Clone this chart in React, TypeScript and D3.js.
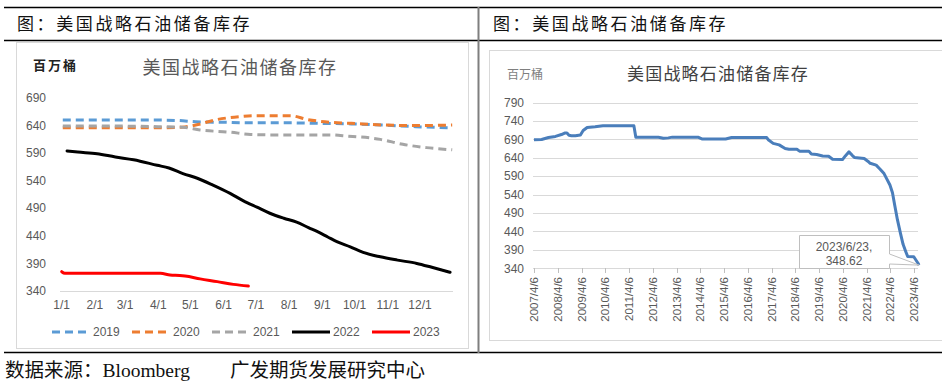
import React from "react";
import * as d3 from "d3";

// ---------- Left chart data (day of year, million barrels) ----------
const monthLabels = ["1/1", "2/1", "3/1", "4/1", "5/1", "6/1", "7/1", "8/1", "9/1", "10/1", "11/1", "12/1"];
const monthStartDays = [0, 31, 59, 90, 120, 151, 181, 212, 243, 273, 304, 334];
const leftYTicks = [340, 390, 440, 490, 540, 590, 640, 690];

const s2019: [number, number][] = [[1, 650], [30, 650], [60, 650], [90, 650], [110, 649], [125, 647], [150, 646], [180, 645], [210, 645], [240, 644], [270, 643], [300, 641], [330, 638], [364, 636]];
const s2020: [number, number][] = [[1, 636], [30, 636], [60, 636], [90, 636], [112, 637], [125, 641], [145, 651], [165, 656], [180, 658], [213, 658], [229, 651], [250, 646], [270, 644], [300, 641], [330, 640], [364, 641]];
const s2021: [number, number][] = [[1, 639], [30, 639], [60, 639], [90, 638], [113, 637], [129, 632], [157, 628], [176, 624], [200, 623], [250, 623], [266, 621], [297, 615], [318, 606], [340, 600], [364, 596]];
const s2022: [number, number][] = [[5, 594], [15, 592], [33, 589], [50, 583], [67, 578], [89, 568], [100, 563], [113, 553], [127, 544], [141, 532], [157, 517], [169, 504], [182, 492], [194, 481], [207, 472], [219, 465], [230, 455], [238, 448], [248, 438], [257, 429], [269, 420], [281, 410], [297, 402], [313, 396], [331, 390], [345, 383], [362, 374]];
const s2023: [number, number][] = [[0, 375], [3, 372], [50, 372], [92, 372], [101, 369], [110, 368], [115, 367], [129, 362], [145, 357], [160, 352], [174, 349]];

const seriesNames = ["2019", "2020", "2021", "2022", "2023"];
const seriesColors = ["#5b9bd5", "#ed7d31", "#a5a5a5", "#000000", "#ff0000"];
const seriesDashed = [true, true, true, false, false];
const seriesData = [s2019, s2020, s2021, s2022, s2023];

// ---------- Right chart data (date, million barrels) ----------
const rightYTicks = [340, 390, 440, 490, 540, 590, 640, 690, 740, 790];
const rightXLabels = ["2007/4/6", "2008/4/6", "2009/4/6", "2010/4/6", "2011/4/6", "2012/4/6", "2013/4/6", "2014/4/6", "2015/4/6", "2016/4/6", "2017/4/6", "2018/4/6", "2019/4/6", "2020/4/6", "2021/4/6", "2022/4/6", "2023/4/6"];
const sprDates = [
  "2007-04-06", "2007-08-01", "2007-11-15", "2008-03-01", "2008-06-01", "2008-07-20", "2008-08-25", "2008-09-25", "2008-11-01", "2009-01-01",
  "2009-03-20", "2009-05-01", "2009-07-01", "2009-11-01", "2010-03-01", "2011-06-20", "2011-07-20", "2011-12-01", "2012-07-01", "2012-09-15",
  "2012-12-01", "2013-02-01", "2014-03-01", "2014-05-01", "2015-05-01", "2015-08-01", "2016-06-01", "2017-01-20", "2017-02-20", "2017-05-01",
  "2017-08-01", "2017-11-01", "2017-12-30", "2018-05-01", "2018-06-10", "2018-11-01", "2018-12-10", "2019-03-01", "2019-06-01", "2019-09-01",
  "2019-11-01", "2020-04-01", "2020-05-15", "2020-07-10", "2020-09-01", "2020-10-01", "2021-03-01", "2021-05-01", "2021-06-01", "2021-09-01",
  "2021-11-01", "2021-12-31", "2022-02-01", "2022-04-01", "2022-05-10", "2022-06-15", "2022-07-25", "2022-09-10", "2022-10-20", "2022-12-01",
  "2022-12-30", "2023-04-01", "2023-04-15", "2023-06-02", "2023-06-23"
];
const sprValues = [
  688.6, 689.5, 695, 698, 703, 707, 707, 701, 700, 700,
  702, 714, 722, 724, 726.6, 726.6, 696, 696, 695.5, 693,
  694, 696, 696, 691, 691, 695, 695, 695, 688, 679,
  675, 665, 663, 663, 658, 658, 650, 649, 645, 644,
  636, 635, 645, 656, 646, 641, 638, 630, 625, 620,
  609, 597, 586, 566, 545, 510, 472, 435, 405, 385,
  372, 371.6, 368, 355, 348.62
];
const annotationLines = ["2023/6/23,", "348.62"];

const cjk = "'Noto Sans CJK SC', sans-serif";
const serifCjk = "'Liberation Serif', 'Noto Sans CJK SC', serif";
const numFont = "'Liberation Sans', Arial, sans-serif";

export default function App() {
  // left scales
  const xL = d3.scaleLinear().domain([0, 364]).range([61.7, 452.2]);
  const yL = d3.scaleLinear().domain([340, 690]).range([291, 98]);
  const lineL = d3.line<[number, number]>().x(d => xL(d[0])).y(d => yL(d[1])).curve(d3.curveMonotoneX);

  // right scales
  const parse = d3.timeParse("%Y-%m-%d");
  const xR = d3.scaleTime().domain([parse("2007-04-06")!, parse("2023-04-06")!]).range([534, 914]);
  const yR = d3.scaleLinear().domain([340, 790]).range([268.3, 102.5]);
  const rightPts = sprDates.map((d, i) => [parse(d)!, sprValues[i]] as [Date, number]);
  const lineR = d3.line<[Date, number]>().x(d => xR(d[0])).y(d => yR(d[1]));
  const tickDates = rightXLabels.map(s => {
    const [y, m, dd] = s.split("/").map(Number);
    return new Date(y, m - 1, dd);
  });
  const last = rightPts[rightPts.length - 1];
  const px = xR(last[0]);
  const py = yR(last[1]);

  const legendX = [52, 132, 212, 292, 372];

  return (
    <div style={{ position: "absolute", left: 0, top: 0 }}>
      <svg width={942} height={381} style={{ display: "block", background: "#fff" }}>
        {/* page frame lines */}
        <line x1={4} x2={942} y1={7.5} y2={7.5} stroke="#000" strokeWidth={1.5} />
        <line x1={4} x2={942} y1={40.5} y2={40.5} stroke="#000" strokeWidth={1.5} />
        <line x1={4} x2={942} y1={352.5} y2={352.5} stroke="#000" strokeWidth={1.5} />
        <line x1={478.5} x2={478.5} y1={7} y2={353} stroke="#7f7f7f" strokeWidth={2} />

        {/* page titles */}
        <text x={17} y={30} fontFamily={serifCjk} fontSize={17} letterSpacing={2.6} fill="#111">图：美国战略石油储备库存</text>
        <text x={493} y={30} fontFamily={serifCjk} fontSize={17} letterSpacing={2.6} fill="#111">图：美国战略石油储备库存</text>

        {/* footer */}
        <text x={5} y={377} fontFamily={serifCjk} fontSize={19.5} fill="#111">
          <tspan>数据来源：</tspan>
          <tspan>Bloomberg</tspan>
          <tspan x={230}>广发期货发展研究中心</tspan>
        </text>

        {/* ---------- LEFT CHART ---------- */}
        <rect x={16.5} y={42.5} width={452} height={306} fill="#fff" stroke="#d9d9d9" />
        <text x={33} y={70} fontFamily={cjk} fontSize={13} fontWeight={700} letterSpacing={2} fill="#222">百万桶</text>
        <text x={240} y={74} textAnchor="middle" fontFamily={serifCjk} fontSize={18} letterSpacing={1.5} fill="#595959">美国战略石油储备库存</text>

        {leftYTicks.map(t => (
          <text key={t} x={46} y={yL(t)} dy="0.35em" textAnchor="end" fontFamily={numFont} fontSize={12} fill="#595959">{t}</text>
        ))}
        <line x1={60} x2={453} y1={yL(340) + 0.5} y2={yL(340) + 0.5} stroke="#d9d9d9" />
        {monthLabels.map((m, i) => (
          <text key={m} x={xL(monthStartDays[i])} y={305} dy="0.35em" textAnchor="middle" fontFamily={numFont} fontSize={12} fill="#595959">{m}</text>
        ))}

        {seriesData.map((s, i) => (
          <path key={seriesNames[i]} d={lineL(s) || ""} fill="none" stroke={seriesColors[i]} strokeWidth={3}
            strokeDasharray={seriesDashed[i] ? "8,5" : undefined} strokeLinejoin="round" strokeLinecap={seriesDashed[i] ? "butt" : "round"} />
        ))}

        {seriesNames.map((n, i) => (
          <g key={n} transform={`translate(${legendX[i]},332)`}>
            <line x1={0} x2={38} y1={0} y2={0} stroke={seriesColors[i]} strokeWidth={3} strokeDasharray={seriesDashed[i] ? "8,5" : undefined} />
            <text x={41} y={0} dy="0.35em" fontFamily={numFont} fontSize={12} fill="#595959">{n}</text>
          </g>
        ))}

        {/* ---------- RIGHT CHART ---------- */}
        <rect x={489.5} y={50.5} width={460} height={290} fill="#fff" stroke="#d9d9d9" />
        <text x={507} y={79} fontFamily={cjk} fontSize={12} fill="#7f7f7f">百万桶</text>
        <text x={718} y={80} textAnchor="middle" fontFamily={serifCjk} fontSize={17} letterSpacing={1.2} fill="#404040">美国战略石油储备库存</text>

        {rightYTicks.map(t => (
          <g key={t}>
            <line x1={533} x2={918} y1={Math.round(yR(t)) + 0.5} y2={Math.round(yR(t)) + 0.5} stroke="#d9d9d9" />
            <text x={524} y={yR(t)} dy="0.35em" textAnchor="end" fontFamily={numFont} fontSize={12} fill="#595959">{t}</text>
          </g>
        ))}
        {tickDates.map((d, i) => (
          <g key={rightXLabels[i]}>
            <line x1={Math.round(xR(d)) + 0.5} x2={Math.round(xR(d)) + 0.5} y1={268} y2={273} stroke="#bfbfbf" />
            <text transform={`translate(${xR(d) + 4},277) rotate(-90)`} textAnchor="end" fontFamily={numFont} fontSize={11.5} fill="#595959">{rightXLabels[i]}</text>
          </g>
        ))}

        <path d={lineR(rightPts) || ""} fill="none" stroke="#4a7ebb" strokeWidth={3} strokeLinejoin="round" />

        {/* callout */}
        <path d={`M799.5,235.5 H889.5 V254 L${px},${py} L889.5,264 V268.5 H799.5 Z`} fill="#fff" stroke="#bfbfbf" strokeWidth={1} />
        {annotationLines.map((l, i) => (
          <text key={l} x={844} y={247 + i * 14} dy="0.35em" textAnchor="middle" fontFamily={numFont} fontSize={12} fill="#595959">{l}</text>
        ))}
      </svg>
    </div>
  );
}
